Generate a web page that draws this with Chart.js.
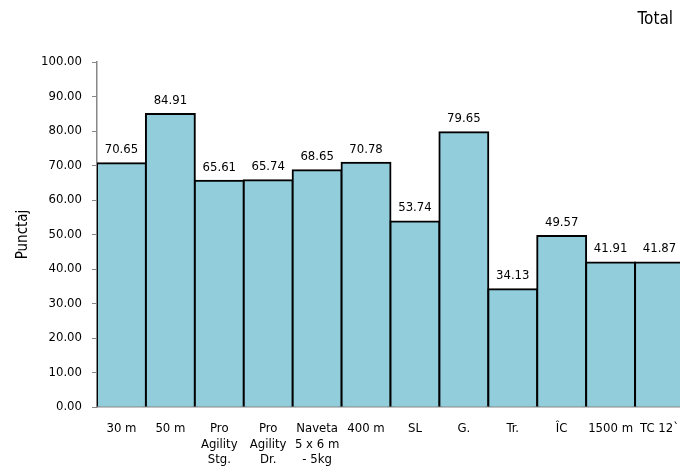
<!DOCTYPE html>
<html lang="ro">
<head>
  <meta charset="UTF-8">
  <title>Total</title>
  <script src="https://cdn.jsdelivr.net/npm/chart.js"></script>
  <style>
    html, body { margin: 0; padding: 0; background: #fff; overflow: hidden; }
    /* the last bar runs off the right edge */
    #wrap { width: 685px; height: 470px; position: relative; }
  </style>
</head>
<body>
  <div id="wrap"><canvas id="chart"></canvas></div>

  <script>
    // probe names and average scores
    const probe = [
      '30 m', '50 m', ['Pro', 'Agility', 'Stg.'], ['Pro', 'Agility', 'Dr.'],
      ['Naveta', '5 x 6 m', '- 5kg'], '400 m', 'SL', 'G.', 'Tr.', 'ÎC', '1500 m', 'TC 12`'
    ];
    const punctaj = [70.65, 84.91, 65.61, 65.74, 68.65, 70.78, 53.74, 79.65, 34.13, 49.57, 41.91, 41.87];
    const yTicks = [0, 10, 20, 30, 40, 50, 60, 70, 80, 90, 100];

    const FONT = "'DejaVu Sans Condensed', 'DejaVu Sans', sans-serif";
    Chart.defaults.font.family = FONT;
    Chart.defaults.color = '#000';

    // value labels above each bar + title in the top right corner
    const labelsPlugin = {
      id: 'valueLabels',
      afterDatasetsDraw(chart) {
        const ctx = chart.ctx;
        ctx.save();
        ctx.font = '13px ' + FONT;
        ctx.fillStyle = '#000';
        ctx.textAlign = 'center';
        ctx.textBaseline = 'bottom';
        chart.getDatasetMeta(0).data.forEach((bar, i) => {
          ctx.fillText(punctaj[i].toFixed(2), bar.x, bar.y - 7);
        });
        ctx.font = '17px ' + FONT;
        ctx.textAlign = 'right';
        ctx.textBaseline = 'middle';
        ctx.fillText('Total', 673, 20);
        ctx.restore();
      }
    };

    new Chart(document.getElementById('chart'), {
      type: 'bar',
      data: {
        labels: probe,
        datasets: [{
          data: punctaj,
          backgroundColor: '#92cddc',
          borderColor: '#000',
          borderWidth: 2,
          inflateAmount: 1,
          categoryPercentage: 1,
          barPercentage: 1
        }]
      },
      options: {
        responsive: true,
        maintainAspectRatio: false,
        animation: false,
        layout: { padding: { top: 62, right: 0, left: 0, bottom: 0 } },
        plugins: {
          legend: { display: false },
          tooltip: { enabled: false }
        },
        scales: {
          x: {
            grid: { display: false },
            border: { color: '#888', width: 1.5 },
            ticks: { font: { size: 13 }, padding: 6, maxRotation: 0, autoSkip: false },
            afterFit(scale) { scale.height = 63; }
          },
          y: {
            min: 0,
            max: 100,
            afterBuildTicks(scale) { scale.ticks = yTicks.map(v => ({ value: v })); },
            grid: { drawOnChartArea: false, drawTicks: true, tickLength: 5, color: '#888' },
            border: { color: '#888', width: 1.5 },
            ticks: {
              font: { size: 13 },
              padding: 10,
              callback: v => Number(v).toFixed(2)
            },
            title: { display: true, text: 'Punctaj', font: { size: 15 }, padding: { top: 14, bottom: 0 } },
            afterFit(scale) { scale.width = 97; }
          }
        }
      },
      plugins: [labelsPlugin]
    });
  </script>
</body>
</html>
